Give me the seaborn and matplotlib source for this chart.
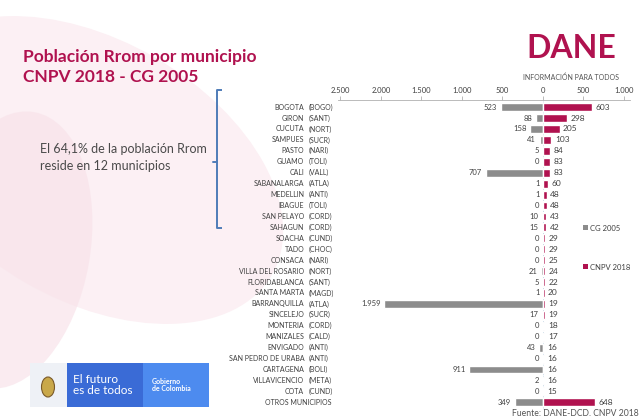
import numpy as np
import pandas as pd
import matplotlib.pyplot as plt
import seaborn as sns
from matplotlib.ticker import FuncFormatter
from matplotlib.patches import Rectangle, Ellipse
import matplotlib.transforms as mtransforms

# -----------------------------------------------------
# Datos: población Rrom por municipio
# -----------------------------------------------------
municipios = ['BOGOTA', 'GIRON', 'CUCUTA', 'SAMPUES', 'PASTO', 'GUAMO', 'CALI',
              'SABANALARGA', 'MEDELLIN', 'IBAGUE', 'SAN PELAYO', 'SAHAGUN', 'SOACHA',
              'TADO', 'CONSACA', 'VILLA DEL ROSARIO', 'FLORIDABLANCA', 'SANTA MARTA',
              'BARRANQUILLA', 'SINCELEJO', 'MONTERIA', 'MANIZALES', 'ENVIGADO',
              'SAN PEDRO DE URABA', 'CARTAGENA', 'VILLAVICENCIO', 'COTA',
              'OTROS MUNICIPIOS']
deptos = ['(BOGO)', '(SANT)', '(NORT)', '(SUCR)', '(NARI)', '(TOLI)', '(VALL)',
          '(ATLA)', '(ANTI)', '(TOLI)', '(CORD)', '(CORD)', '(CUND)',
          '(CHOC)', '(NARI)', '(NORT)', '(SANT)', '(MAGD)',
          '(ATLA)', '(SUCR)', '(CORD)', '(CALD)', '(ANTI)',
          '(ANTI)', '(BOLI)', '(META)', '(CUND)',
          '']
cg_2005 = [523, 88, 158, 41, 5, 0, 707, 1, 1, 0, 10, 15, 0, 0, 0, 21, 5, 1,
           1959, 17, 0, 0, 43, 0, 911, 2, 0, 349]
cnpv_2018 = [603, 298, 205, 103, 84, 83, 83, 60, 48, 48, 43, 42, 29, 29, 25, 24, 22, 20,
             19, 19, 18, 17, 16, 16, 16, 16, 15, 648]
x_ticks = [-2500, -2000, -1500, -1000, -500, 0, 500, 1000]

GRIS = '#8C8C8C'
ROJO = '#B0124F'
TEXTO = '#404040'

sns.set_theme(style='white')
plt.rcParams['font.family'] = ['Lato', 'DejaVu Sans']

df = pd.DataFrame({
    'municipio': municipios + municipios,
    'serie': ['CG 2005'] * len(municipios) + ['CNPV 2018'] * len(municipios),
    'valor': [-v for v in cg_2005] + cnpv_2018,
})

fig = plt.figure(figsize=(6.41, 4.19), dpi=100)

# -----------------------------------------------------
# Fondo y elementos decorativos (coordenadas en pixeles)
# -----------------------------------------------------
bg = fig.add_axes([0, 0, 1, 1])
bg.set_xlim(0, 641)
bg.set_ylim(419, 0)
bg.axis('off')
bg.set_zorder(0)

bg.add_patch(Ellipse((90, 170), 420, 260, angle=30, facecolor='#FCF0F4', edgecolor='none'))
bg.add_patch(Ellipse((10, 250), 160, 280, angle=10, facecolor='#F8E3EA', edgecolor='none', alpha=0.7))

fig.text(23 / 641, 1 - 62 / 419, 'Población Rrom por municipio', fontsize=12.5,
         fontweight='bold', color=ROJO, va='baseline')
fig.text(23 / 641, 1 - 82 / 419, 'CNPV 2018 - CG 2005', fontsize=12.5,
         fontweight='bold', color=ROJO, va='baseline')

fig.text(40 / 641, 1 - 153 / 419, 'El 64,1% de la población Rrom', fontsize=9,
         color='#4A4A4A', va='baseline')
fig.text(40 / 641, 1 - 170 / 419, 'reside en 12 municipios', fontsize=9,
         color='#4A4A4A', va='baseline')

# llave azul
azul = '#4F7CB8'
bg.plot([222, 217, 217, 222], [90, 90, 228, 228], color=azul, lw=1.4, solid_capstyle='butt')
bg.plot([217, 213], [162, 162], color=azul, lw=1.4)

# logo DANE
fig.text(571 / 641, 1 - 58 / 419, 'DANE', fontsize=23, fontweight='bold', color=ROJO,
         ha='center', va='baseline')
fig.text(571 / 641, 1 - 80 / 419, 'INFORMACIÓN PARA TODOS', fontsize=5, color='#555555',
         ha='center', va='baseline')

# logo gobierno
bg.add_patch(Rectangle((30, 363), 37, 44, facecolor='#EEF1F6', edgecolor='none'))
bg.add_patch(Rectangle((67, 363), 76, 44, facecolor='#3A6BD6', edgecolor='none'))
bg.add_patch(Rectangle((143, 363), 66, 44, facecolor='#4D8BEF', edgecolor='none'))
bg.add_patch(Ellipse((48, 387), 13, 20, facecolor='#C9A84A', edgecolor='#7A5A2A', lw=0.8))
bg.text(73, 385, 'El futuro\nes de todos', color='white', fontsize=8.5, va='center',
        linespacing=1.0)
bg.text(152, 385, 'Gobierno\nde Colombia', color='white', fontsize=5, va='center',
        fontweight='bold', linespacing=1.1)

fig.text(639 / 641, 1 - 416 / 419, 'Fuente: DANE-DCD. CNPV 2018', fontsize=6.2,
         color='#555555', va='baseline', ha='right')

# leyenda
bg.add_patch(Rectangle((583, 225), 5, 5, facecolor=GRIS, edgecolor='none'))
bg.text(590, 228, 'CG 2005', fontsize=5.5, color=TEXTO, va='center')
bg.add_patch(Rectangle((583, 264), 5, 5, facecolor=ROJO, edgecolor='none'))
bg.text(590, 267, 'CNPV 2018', fontsize=5.5, color=TEXTO, va='center')

# -----------------------------------------------------
# Gráfico de barras
# -----------------------------------------------------
ax = fig.add_axes([0.5273, 0.0215, 0.4555, 0.7398])
ax.set_zorder(1)
ax.patch.set_alpha(0)

sns.barplot(data=df, y='municipio', x='valor', hue='serie', dodge=False,
            palette={'CG 2005': GRIS, 'CNPV 2018': ROJO}, width=0.72,
            saturation=1, legend=False, ax=ax)

ax.axvline(0, color='#A9C4D8', lw=0.6, ls=':', zorder=0)

ax.set_xlim(-2530, 1074)
ax.set_ylim(27.7, -0.65)
ax.xaxis.tick_top()
ax.set_xticks(x_ticks)
ax.xaxis.set_major_formatter(FuncFormatter(lambda x, p: f'{abs(int(x)):,}'.replace(',', '.')))
ax.tick_params(axis='x', length=3, width=0.6, color='#B0B0B0', labelsize=5.5,
               labelcolor=TEXTO, pad=1.5)
ax.set_yticks([])
ax.set_xlabel('')
ax.set_ylabel('')
for s in ['left', 'right', 'bottom']:
    ax.spines[s].set_visible(False)
ax.spines['top'].set_color('#B0B0B0')
ax.spines['top'].set_linewidth(0.6)

trans = mtransforms.blended_transform_factory(ax.transAxes, ax.transData)
for i, (m, d) in enumerate(zip(municipios, deptos)):
    if d:
        ax.text(-0.116, i, m, transform=trans, ha='right', va='center', fontsize=5, color=TEXTO)
        ax.text(-0.099, i, d, transform=trans, ha='left', va='center', fontsize=5, color=TEXTO)
    else:
        ax.text(-0.021, i, m, transform=trans, ha='right', va='center', fontsize=5, color=TEXTO)

for i, (g, r) in enumerate(zip(cg_2005, cnpv_2018)):
    ax.annotate(f'{g:,}'.replace(',', '.'), xy=(-g, i), xytext=(-2.5, 0),
                textcoords='offset points', ha='right', va='center', fontsize=5.5, color=TEXTO)
    ax.annotate(f'{r:,}'.replace(',', '.'), xy=(r, i), xytext=(2.5, 0),
                textcoords='offset points', ha='left', va='center', fontsize=6, color=TEXTO)

plt.savefig('out.png', dpi=100)
